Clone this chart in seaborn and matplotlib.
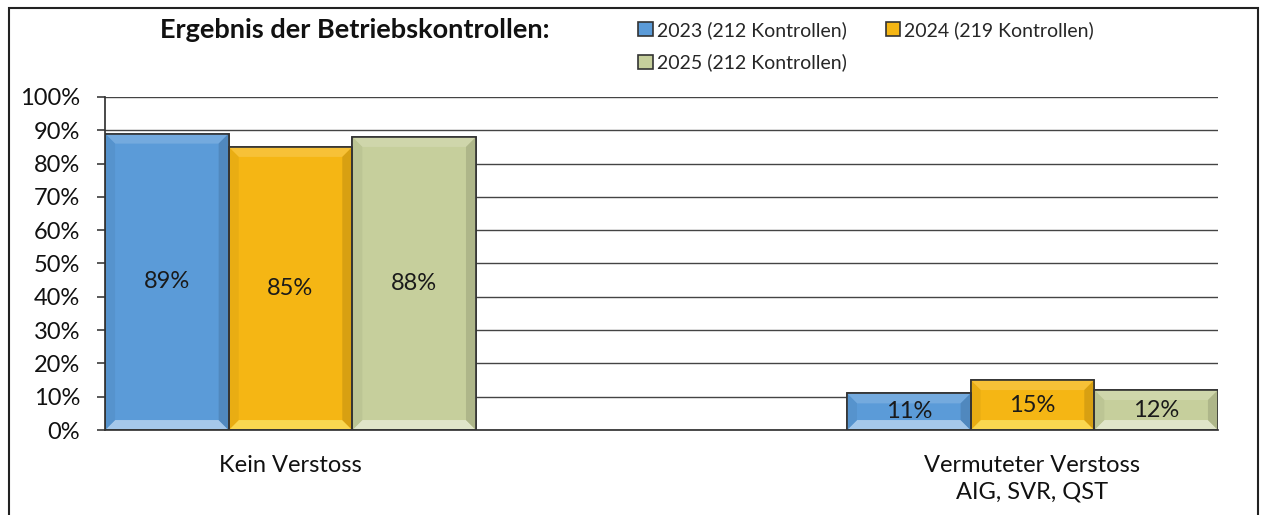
import pandas as pd
import seaborn as sns
import matplotlib.pyplot as plt
from matplotlib.patches import Rectangle, Polygon
from matplotlib.colors import to_rgb
from matplotlib.ticker import PercentFormatter

# Daten aus der Grafik
kategorien = ["Kein Verstoss", "Vermuteter Verstoss\nAIG, SVR, QST"]
jahre = ["2023 (212 Kontrollen)", "2024 (219 Kontrollen)", "2025 (212 Kontrollen)"]
werte_2023 = [89, 11]
werte_2024 = [85, 15]
werte_2025 = [88, 12]

farben = ["#5B9BD8", "#F5B614", "#C6CF9C"]

rows = []
for jahr, werte in zip(jahre, [werte_2023, werte_2024, werte_2025]):
    for kat, w in zip(kategorien, werte):
        rows.append({"Kategorie": kat, "Jahr": jahr, "Anteil": w})
df = pd.DataFrame(rows)


def mischen(farbe, ziel, anteil):
    c = to_rgb(farbe)
    t = to_rgb(ziel)
    return tuple(a + (b - a) * anteil for a, b in zip(c, t))


sns.set_theme(style="white")
plt.rcParams['font.family'] = ['Lato', 'DejaVu Sans']

fig = plt.figure(figsize=(12.62, 5.15), dpi=100)
ax = fig.add_axes([0.0832, 0.165, 0.8819, 0.6467])

sns.barplot(
    data=df, x="Kategorie", y="Anteil", hue="Jahr",
    order=kategorien, hue_order=jahre, palette=farben,
    width=0.5, gap=0, edgecolor="#333333", linewidth=1.2,
    saturation=1, ax=ax, legend=True
)

ax.set_xlim(-0.25, 1.25)
ax.set_ylim(0, 100)

# Abgeschrägte Kanten (Bevel-Effekt) aus der Balkengeometrie
bx = 0.0135  # ca. 10 px in x
by = 3.0     # ca. 10 px in y
for cont, farbe in zip(ax.containers, farben):
    for bar in cont:
        x0, w, h = bar.get_x(), bar.get_width(), bar.get_height()
        x1 = x0 + w
        z = bar.get_zorder()
        unten = Polygon([(x0, 0), (x1, 0), (x1 - bx, by), (x0 + bx, by)],
                        facecolor=mischen(farbe, "#ffff99" if farbe == "#F5B614" else "white", 0.45),
                        edgecolor="none", zorder=z + 0.1)
        oben = Polygon([(x0, h), (x1, h), (x1 - bx, h - by), (x0 + bx, h - by)],
                       facecolor=mischen(farbe, "white", 0.15),
                       edgecolor="none", zorder=z + 0.1)
        rechts = Polygon([(x1, 0), (x1, h), (x1 - bx, h - by), (x1 - bx, by)],
                         facecolor=mischen(farbe, "black", 0.12),
                         edgecolor="none", zorder=z + 0.1)
        links = Polygon([(x0, 0), (x0, h), (x0 + bx, h - by), (x0 + bx, by)],
                        facecolor=mischen(farbe, "black", 0.05),
                        edgecolor="none", zorder=z + 0.1)
        for p in (unten, oben, rechts, links):
            ax.add_patch(p)
        ax.add_patch(Rectangle((x0, 0), w, h, fill=False, edgecolor="#333333",
                               linewidth=1.2, zorder=z + 0.2))

# Datenbeschriftungen mittig in den Balken
for cont in ax.containers:
    ax.bar_label(cont, labels=[f"{int(v)}%" for v in cont.datavalues],
                 label_type="center", fontsize=17, color="#1a1a1a", zorder=10)

ax.set_yticks(range(0, 101, 10))
ax.yaxis.set_major_formatter(PercentFormatter(decimals=0))
ax.yaxis.grid(True, color="#444444", linewidth=1)
ax.set_axisbelow(True)
ax.tick_params(axis="y", labelsize=17, length=6, left=True, color="#444444",
               pad=12, labelcolor="#111111")
ax.tick_params(axis="x", labelsize=17, length=0, pad=18, labelcolor="#111111")
for lbl in ax.get_xticklabels():
    lbl.set_linespacing(1.3)
ax.set_xlabel("")
ax.set_ylabel("")
for s in ["top", "right"]:
    ax.spines[s].set_visible(False)
ax.spines["left"].set_color("#333333")
ax.spines["bottom"].set_color("#333333")

# Legende oben rechts, zeilenweise: 2023 | 2024, darunter 2025
handles, labels = ax.get_legend_handles_labels()
idx = [0, 2, 1]
ax.legend([handles[i] for i in idx], [labels[i] for i in idx], ncol=2,
          loc="upper left", bbox_to_anchor=(0.492, 0.993), bbox_transform=fig.transFigure,
          frameon=False, fontsize=14, handlelength=0.75, handleheight=0.75,
          handletextpad=0.2, columnspacing=2.0, labelspacing=0.75)

fig.text(0.281, 0.942, "Ergebnis der Betriebskontrollen:", ha="center", va="center",
         fontsize=19.5, fontweight="bold", color="#111111")

# Rahmen um das Diagramm
fig.patches.append(Rectangle((9 / 1262, -0.02), 1249 / 1262, 1 - 8 / 515 + 0.02,
                             transform=fig.transFigure, fill=False,
                             edgecolor="#222222", linewidth=1.5))

fig.savefig("out.png", dpi=100)
